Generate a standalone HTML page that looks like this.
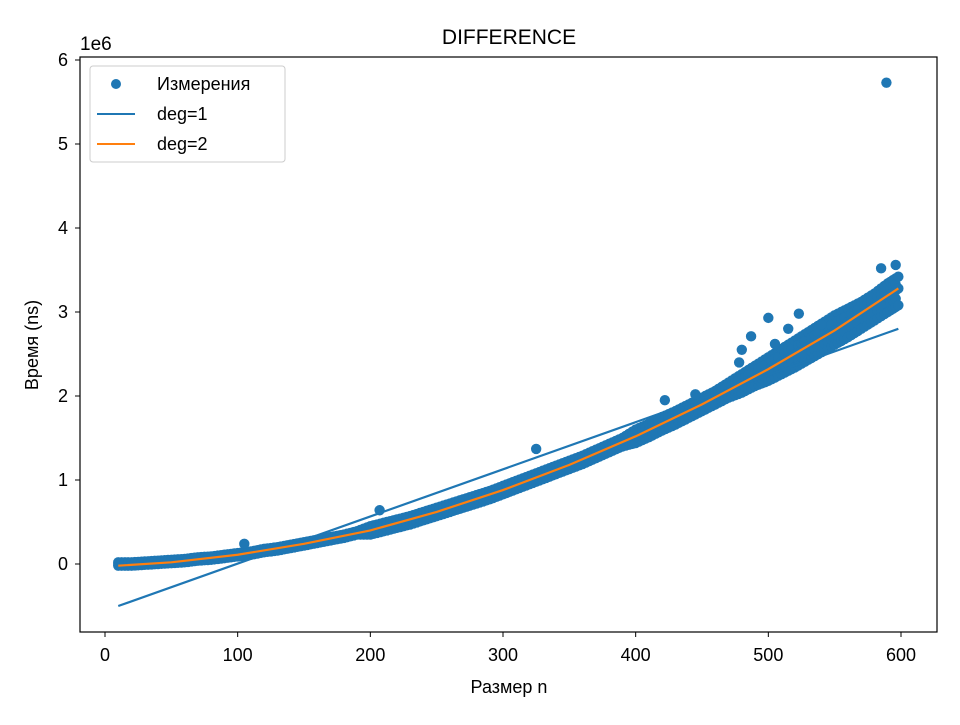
<!DOCTYPE html>
<html><head><meta charset="utf-8"><style>
body{margin:0;background:#fff;}
svg text{font-family:"Liberation Sans","DejaVu Sans",sans-serif;}
</style></head><body>
<svg id="chart" width="960" height="720" xmlns="http://www.w3.org/2000/svg">
<rect width="960" height="720" fill="#fff"/>
<g id="marks"></g>
<rect x="80" y="57" width="857" height="575" fill="none" stroke="#000" stroke-width="1.2"/>
<g id="axes"></g>
<text x="509" y="44" font-size="21" text-anchor="middle">DIFFERENCE</text>
<text x="80" y="50" font-size="19">1e6</text>
<text x="509" y="693" font-size="18" text-anchor="middle">Размер n</text>
<text transform="translate(38,345) rotate(-90)" font-size="18" text-anchor="middle">Время (ns)</text>
<g>
<rect x="90" y="66" width="195" height="96" rx="3" fill="#fff" fill-opacity="0.8" stroke="#ccc"/>
<circle cx="116" cy="84" r="5" fill="#1f77b4"/>
<text x="157" y="90" font-size="18">Измерения</text>
<line x1="97" y1="114" x2="135" y2="114" stroke="#1f77b4" stroke-width="2"/>
<text x="157" y="120" font-size="18">deg=1</text>
<line x1="97" y1="144" x2="135" y2="144" stroke="#ff7f0e" stroke-width="2"/>
<text x="157" y="150" font-size="18">deg=2</text>
</g>
</svg>
<script>
const xTicks=[0,100,200,300,400,500,600];
const yTicks=[0,1,2,3,4,5,6];
const scatterN=[10,20,30,40,50,60,70,80,90,100,110,120,130,140,150,160,170,180,190,200,210,220,230,240,250,260,270,280,290,300,310,320,330,340,350,360,370,380,390,400,410,420,430,440,450,460,470,480,490,500,510,520,530,540,550,560,570,580,590,598];
const scatterMid=[0,0,0.01,0.02,0.03,0.04,0.06,0.07,0.09,0.11,0.13,0.16,0.18,0.21,0.24,0.27,0.30,0.33,0.37,0.40,0.44,0.48,0.52,0.57,0.62,0.67,0.72,0.77,0.82,0.88,0.94,1.00,1.06,1.12,1.18,1.24,1.31,1.38,1.45,1.52,1.59,1.67,1.74,1.82,1.90,1.98,2.06,2.14,2.23,2.32,2.41,2.50,2.59,2.68,2.78,2.88,2.98,3.08,3.18,3.28];
const scatterLow=[-0.02,-0.02,-0.01,0,0.01,0.02,0.04,0.05,0.07,0.09,0.11,0.14,0.16,0.19,0.22,0.25,0.28,0.31,0.35,0.35,0.39,0.43,0.47,0.52,0.57,0.62,0.67,0.72,0.77,0.83,0.89,0.95,1.01,1.07,1.13,1.19,1.26,1.33,1.40,1.44,1.51,1.59,1.66,1.74,1.82,1.90,1.98,2.04,2.12,2.18,2.26,2.34,2.43,2.52,2.61,2.70,2.80,2.90,3.00,3.08];
const scatterHigh=[0.02,0.02,0.03,0.04,0.05,0.06,0.08,0.09,0.11,0.13,0.15,0.18,0.20,0.23,0.26,0.29,0.32,0.35,0.39,0.45,0.49,0.53,0.57,0.62,0.67,0.72,0.77,0.82,0.87,0.93,0.99,1.05,1.11,1.17,1.23,1.29,1.36,1.43,1.50,1.60,1.67,1.75,1.82,1.90,1.98,2.06,2.16,2.26,2.36,2.46,2.56,2.66,2.76,2.86,2.96,3.04,3.12,3.22,3.34,3.42];
const outlierN=[105,207,325,422,480,487,500,523,540,585,596,589,445,505,478,515];
const outlierY=[0.24,0.64,1.37,1.95,2.55,2.71,2.93,2.98,2.85,3.52,3.56,5.73,2.02,2.62,2.40,2.80];
const deg1N=[10,598];
const deg1Y=[-0.5,2.8];
const deg2N=[10,50,100,150,200,250,300,350,400,450,500,550,598];
const deg2Y=[-0.02,0.02,0.11,0.24,0.40,0.62,0.88,1.18,1.52,1.90,2.32,2.78,3.28];

const NS='http://www.w3.org/2000/svg';
function xs(v){return 105+v*(901-105)/600;}
function ys(v){return 564-v*84;}
const marks=document.getElementById('marks');
const axes=document.getElementById('axes');
function mk(tag,attrs,parent){const e=document.createElementNS(NS,tag);for(const k in attrs)e.setAttribute(k,attrs[k]);parent.appendChild(e);return e;}
xTicks.forEach(t=>{
  const l=mk('line',{x1:xs(t),x2:xs(t),y1:632,y2:637,stroke:'#000'},axes);
  
  
  const tx=mk('text',{x:xs(t),y:661,'font-size':18,'text-anchor':'middle'},axes);tx.textContent=t;
  
  
});
yTicks.forEach(t=>{
  const l=mk('line',{x1:75,x2:80,y1:ys(t),y2:ys(t),stroke:'#000'},axes);
  
  
  const tx=mk('text',{x:68,y:ys(t)+6,'font-size':18,'text-anchor':'end'},axes);tx.textContent=t;
  
  
});
function dot(n,v){
  const c=mk('circle',{cx:xs(n),cy:ys(v),r:5.2,fill:'#1f77b4'},marks);
  
  
}
const bands=[scatterLow,scatterMid,scatterHigh];
scatterN.forEach((n,i)=>{
  bands.forEach(b=>dot(n,b[i]));
  if(i<scatterN.length-1){
    const dn=scatterN[i+1]-n;
    [0.25,0.5,0.75].forEach(f=>{
      bands.forEach(b=>dot(n+dn*f,b[i]+(b[i+1]-b[i])*f));
      dot(n+dn*f,(scatterLow[i]+scatterMid[i])/2+((scatterLow[i+1]+scatterMid[i+1])/2-(scatterLow[i]+scatterMid[i])/2)*f);
      dot(n+dn*f,(scatterHigh[i]+scatterMid[i])/2+((scatterHigh[i+1]+scatterMid[i+1])/2-(scatterHigh[i]+scatterMid[i])/2)*f);
    });
  }
});
outlierN.forEach((n,i)=>dot(n,outlierY[i]));
function line(N,Y,color,name){
  const p=mk('polyline',{points:N.map((n,i)=>xs(n)+','+ys(Y[i])).join(' '),fill:'none',stroke:color,'stroke-width':2.2},marks);
  
  
}
line(deg1N,deg1Y,'#1f77b4','deg1-line');
line(deg2N,deg2Y,'#ff7f0e','deg2-line');
</script>
</body></html>
